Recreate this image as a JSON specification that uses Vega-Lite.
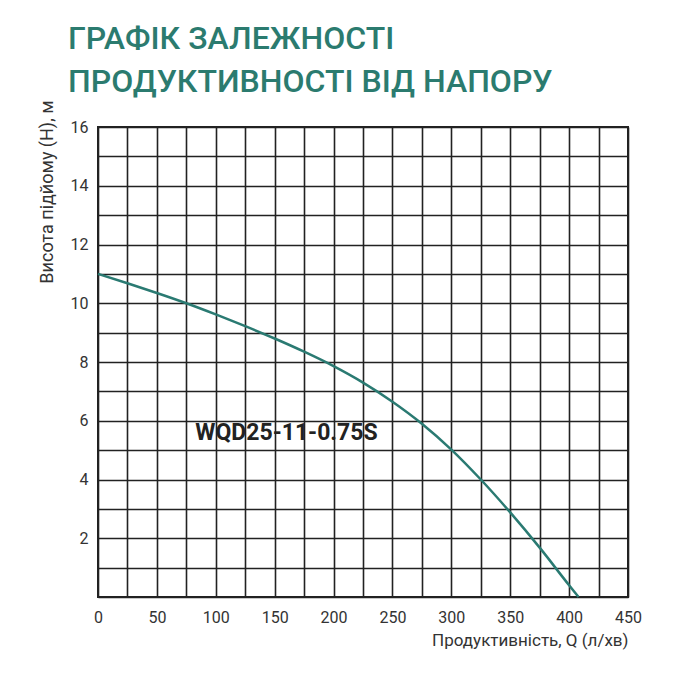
{
  "$schema": "https://vega.github.io/schema/vega-lite/v6.json",
  "autosize": {"type": "none"},
  "width": 530,
  "height": 470,
  "padding": {"left": 98, "top": 127, "right": 72, "bottom": 103},
  "background": "white",
  "title": {
    "text": ["ГРАФІК ЗАЛЕЖНОСТІ", "ПРОДУКТИВНОСТІ ВІД НАПОРУ"],
    "anchor": "start",
    "frame": "group",
    "dx": -30,
    "offset": 1,
    "fontSize": 32,
    "lineHeight": 43,
    "font": "Roboto",
    "fontWeight": 500,
    "color": "#2b7b6f"
  },
  "config": {
    "view": {"stroke": "#222", "strokeWidth": 2},
    "axis": {
      "labelFont": "Roboto",
      "titleFont": "Roboto",
      "labelColor": "#333",
      "titleColor": "#333",
      "labelFontSize": 16,
      "titleFontSize": 17,
      "titleFontWeight": "normal",
      "domain": false,
      "ticks": false,
      "grid": true,
      "gridColor": "#222",
      "gridWidth": 1.6,
      "gridOpacity": 1
    }
  },
  "datasets": {
    "curve": [
      {"q": 0, "h": 11.0},
      {"q": 25, "h": 10.68},
      {"q": 50, "h": 10.35},
      {"q": 75, "h": 10.0},
      {"q": 100, "h": 9.62},
      {"q": 125, "h": 9.22},
      {"q": 150, "h": 8.8},
      {"q": 175, "h": 8.35},
      {"q": 200, "h": 7.86},
      {"q": 225, "h": 7.3},
      {"q": 250, "h": 6.65},
      {"q": 275, "h": 5.9},
      {"q": 300, "h": 5.02},
      {"q": 325, "h": 4.0},
      {"q": 350, "h": 2.88},
      {"q": 375, "h": 1.68},
      {"q": 400, "h": 0.4},
      {"q": 408, "h": 0.0}
    ],
    "label": [{"q": 160, "h": 5.58, "t": "WQD25-11-0.75S"}]
  },
  "encoding": {
    "x": {
      "field": "q", "type": "quantitative",
      "scale": {"domain": [0, 450], "nice": false},
      "axis": {
        "values": [0,25,50,75,100,125,150,175,200,225,250,275,300,325,350,375,400,425,450],
        "labelExpr": "datum.value % 50 === 0 ? datum.label : ''",
        "labelPadding": 12,
        "labelFlush": false,
        "labelOverlap": false,
        "title": "Продуктивність, Q (л/хв)",
        "titleAnchor": "end",
        "titleAlign": "right",
        "titleBaseline": "middle",
        "titleX": 530,
        "titleY": 43
      }
    },
    "y": {
      "field": "h", "type": "quantitative",
      "scale": {"domain": [0, 16], "nice": false},
      "axis": {
        "values": [0,1,2,3,4,5,6,7,8,9,10,11,12,13,14,15,16],
        "labelExpr": "datum.value % 2 === 0 && datum.value > 0 ? datum.label : ''",
        "labelPadding": 10,
        "labelFlush": false,
        "labelOverlap": false,
        "title": "Висота підйому (H), м",
        "titleAngle": -90,
        "titleAlign": "right",
        "titleBaseline": "middle",
        "titleFontSize": 18,
        "titleX": -51,
        "titleY": -27
      }
    }
  },
  "layer": [
    {
      "data": {"name": "curve"},
      "mark": {"type": "line", "color": "#2a7a72", "strokeWidth": 2.5, "interpolate": "monotone"}
    },
    {
      "data": {"name": "label"},
      "mark": {"type": "text", "font": "Roboto", "fontWeight": "bold", "fontSize": 23, "color": "#222", "align": "center", "baseline": "middle"},
      "encoding": {
        "text": {"field": "t"}
      }
    }
  ]
}
